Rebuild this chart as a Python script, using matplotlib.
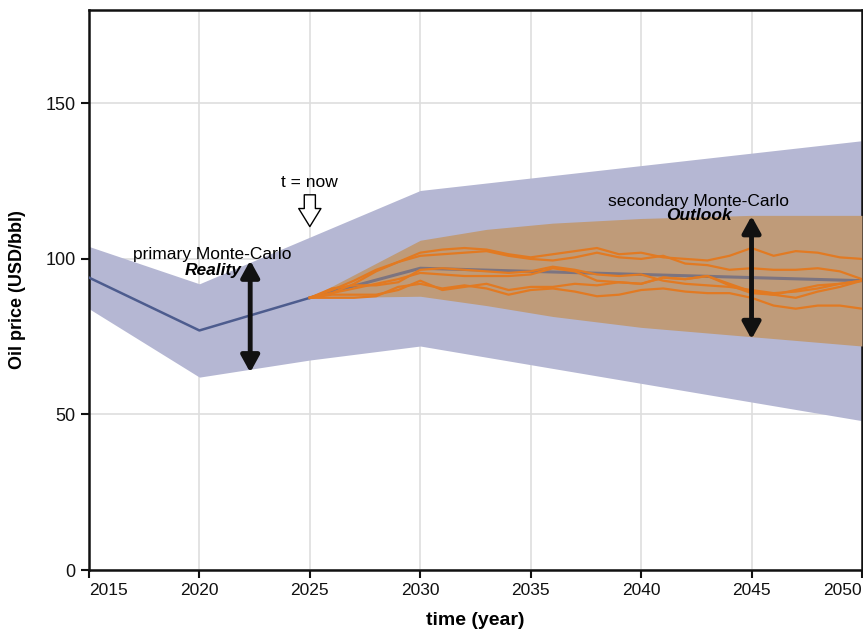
import numpy as np
import matplotlib.pyplot as plt

plt.rcParams['font.family'] = ['Liberation Sans', 'DejaVu Sans']

# primary Monte-Carlo envelope (history + near term)
band_years = [2015, 2020, 2025, 2030, 2050]
band_upper = [104, 92, 107, 122, 138]
band_lower = [84, 62, 67.5, 72, 48]

# mean price up to now, then mean of the outlook
past_years = [2015, 2020, 2025]
past_mean = [94, 77, 87.5]
outlook_years = [2025, 2030, 2050]
outlook_mean = [87.5, 97, 93]

# secondary Monte-Carlo envelope
sec_years = [2025, 2030, 2033, 2036, 2040, 2045, 2050]
sec_upper = [87.5, 106, 109.5, 111.5, 113, 114, 114]
sec_lower = [87.5, 88, 85, 81.5, 78, 75, 72]

# sample paths of the secondary simulation
path_years = list(range(2025, 2051))
path_1 = [87.5, 89, 92, 96, 99, 102, 103, 103.5, 103, 101.5, 100.5, 101.5, 102.5,
          103.5, 101.5, 102, 100.5, 100, 99.5, 101, 103.5, 101, 102.5, 102, 100.5, 100]
path_2 = [87.5, 90, 93, 96.5, 99, 101, 101.5, 102, 102.5, 101, 100, 99.5, 100.5,
          102, 100.5, 100, 101, 98.5, 98, 96.5, 97, 96.5, 96.5, 97, 96, 93.5]
path_3 = [87.5, 89, 90.5, 92, 93.5, 95.5, 95, 94.5, 94.5, 94.5, 95, 97, 96,
          93, 92.5, 92, 94, 93.5, 94.5, 92, 89.5, 88.5, 90, 91.5, 92, 93]
path_4 = [87.5, 88.5, 88.5, 88.5, 90, 93, 90, 91, 92, 90, 91, 91, 92,
          91.5, 92.5, 92, 94, 93.5, 94.5, 91.5, 89, 88.5, 87.5, 89.5, 91, 93]
path_5 = [87.5, 87.5, 87.5, 88, 91, 92, 90.5, 91.5, 90.5, 88.5, 90, 90.5, 89.5,
          88, 88.5, 90, 90.5, 89.5, 89, 89, 87.5, 85, 84, 85, 85, 84]
path_6 = [87.5, 90.5, 91.5, 91.5, 92.5, 96.5, 97, 96.5, 96, 95.5, 96, 97.5, 96.5,
          95, 94.5, 95, 93, 92, 91.5, 91, 90, 89, 89.5, 90.5, 92, 93]
paths = [path_1, path_2, path_3, path_4, path_5, path_6]

x_ticks = [2015, 2020, 2025, 2030, 2035, 2040, 2045, 2050]
y_ticks = [0, 50, 100, 150]

fig = plt.figure(figsize=(8.63, 6.32), dpi=100)
ax = fig.add_axes([0.1031, 0.0981, 0.8957, 0.886])

ax.fill_between(band_years, band_lower, band_upper, color='#b5b7d3', lw=0, zorder=2)
ax.fill_between(sec_years, sec_lower, sec_upper, color='#bf9b79', lw=0, zorder=3)
ax.plot(past_years, past_mean, color='#4d5c8e', lw=1.8, zorder=4)
ax.plot(outlook_years, outlook_mean, color='#7c7480', lw=2.2, zorder=4)
for p in paths:
    ax.plot(path_years, p, color='#e27a22', lw=1.6, zorder=5)

# annotations
ax.text(2025, 124.5, 't = now', ha='center', va='center', fontsize=12.5)
ax.annotate('', xy=(2025, 109.5), xytext=(2025, 121.5),
            arrowprops=dict(arrowstyle='simple,head_width=1.6,head_length=1.3,tail_width=0.8',
                            fc='white', ec='black', lw=1), zorder=6)

ax.text(2020.6, 101.5, 'primary Monte-Carlo', ha='center', va='center', fontsize=12.5)
ax.text(2021.9, 96.3, 'Reality', ha='right', va='center', fontsize=12.5,
        fontweight='bold', fontstyle='italic')
ax.annotate('', xy=(2022.3, 63.5), xytext=(2022.3, 99.5),
            arrowprops=dict(arrowstyle='<|-|>,head_width=0.55,head_length=1.0',
                            color='#111111', lw=3.5, shrinkA=0, shrinkB=0), zorder=6)

ax.text(2042.6, 118.5, 'secondary Monte-Carlo', ha='center', va='center', fontsize=12.5)
ax.text(2044.1, 113.8, 'Outlook', ha='right', va='center', fontsize=12.5,
        fontweight='bold', fontstyle='italic')
ax.annotate('', xy=(2045, 74.2), xytext=(2045, 113.8),
            arrowprops=dict(arrowstyle='<|-|>,head_width=0.55,head_length=1.0',
                            color='#111111', lw=3.5, shrinkA=0, shrinkB=0), zorder=6)

ax.set_xlim(2015, 2050)
ax.set_ylim(0, 180)
ax.set_xticks(x_ticks)
ax.set_yticks(y_ticks)
ax.grid(True, color='#dedede', lw=1.2, zorder=0)
ax.set_axisbelow(True)

ax.tick_params(axis='both', direction='out', length=6, width=1.5, labelsize=13, colors='#111111')
xlabels = ax.set_xticklabels([str(t) for t in x_ticks], fontsize=12.5)
xlabels[0].set_ha('left')
xlabels[-1].set_ha('right')

for s in ax.spines.values():
    s.set_linewidth(1.8)
    s.set_color('#111111')

ax.set_xlabel('time (year)', fontsize=14, fontweight='bold', labelpad=10)
ax.set_ylabel('Oil price (USD/bbl)', fontsize=13, fontweight='bold', labelpad=14)

fig.savefig('out.png', dpi=100)
